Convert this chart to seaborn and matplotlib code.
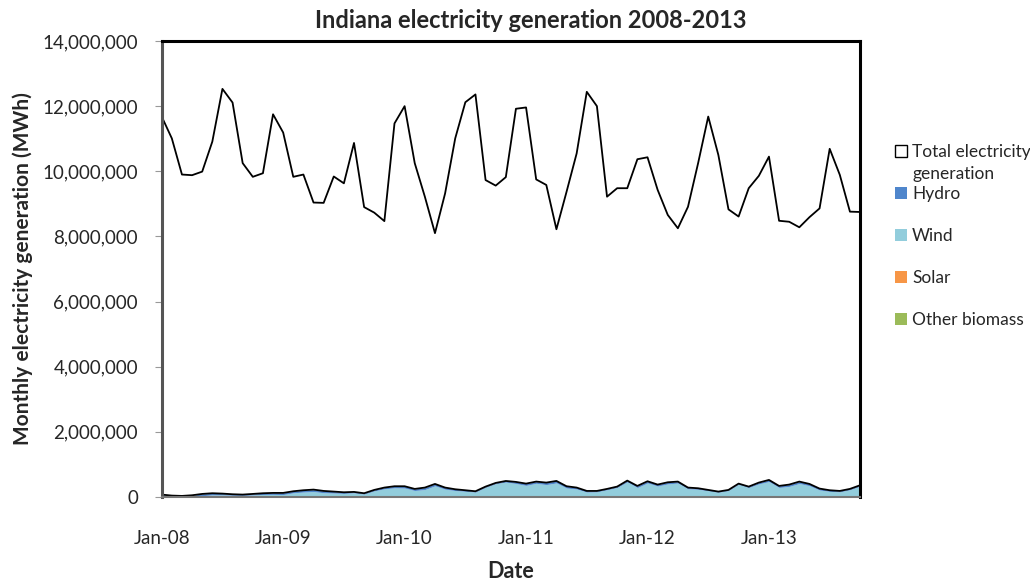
import pandas as pd
import matplotlib.pyplot as plt
import matplotlib.ticker as mticker
from matplotlib.patches import Patch
import seaborn as sns

# Monthly values, Jan-08 .. Oct-13 (MWh)
total = [11.68, 11.01, 9.90, 9.88, 9.99, 10.91, 12.53, 12.11, 10.25, 9.83, 9.94, 11.75,
         11.19, 9.83, 9.90, 9.04, 9.03, 9.84, 9.63, 10.87, 8.90, 8.73, 8.47, 11.47,
         12.00, 10.25, 9.22, 8.10, 9.32, 11.01, 12.12, 12.36, 9.73, 9.56, 9.82, 11.92,
         11.96, 9.75, 9.58, 8.22, 9.37, 10.55, 12.44, 12.00, 9.22, 9.48, 9.48, 10.37,
         10.43, 9.43, 8.66, 8.25, 8.91, 10.25, 11.68, 10.50, 8.83, 8.61, 9.48, 9.86,
         10.45, 8.48, 8.45, 8.28, 8.59, 8.86, 10.69, 9.89, 8.76, 8.75]
hydro = [62, 38, 30, 48, 55, 50, 38, 30, 25, 30, 38, 45,
         50, 48, 55, 60, 55, 45, 35, 28, 25, 30, 40, 48,
         55, 50, 60, 58, 50, 40, 32, 25, 22, 25, 35, 50,
         55, 52, 62, 60, 55, 45, 35, 28, 25, 28, 40, 50,
         52, 45, 50, 45, 38, 30, 25, 20, 20, 22, 30, 40,
         50, 48, 55, 58, 55, 45, 35, 28, 25, 30]
wind = [10, 3, 1, 3, 37, 63, 64, 52, 47, 62, 75, 78,
        73, 126, 150, 165, 129, 119, 108, 126, 88, 185, 247, 280,
        273, 196, 227, 341, 237, 195, 173, 149, 295, 405, 455, 411,
        354, 419, 378, 431, 273, 242, 149, 156, 221, 289, 461, 288,
        429, 334, 400, 426, 249, 236, 190, 144, 195, 387, 287, 400,
        472, 290, 324, 413, 344, 211, 170, 156, 221, 328]
solar = [0] * 70
biomass = [0] * 70
tick_labels = ['Jan-08', 'Jan-09', 'Jan-10', 'Jan-11', 'Jan-12', 'Jan-13']

df = pd.DataFrame({
    'month': range(len(total)),
    'total': [v * 1e6 for v in total],
    'hydro': [v * 1e3 for v in hydro],
    'wind': [v * 1e3 for v in wind],
    'solar': solar,
    'biomass': biomass,
})
df['stack'] = df['wind'] + df['hydro'] + df['solar'] + df['biomass']

sns.set_style('white')
plt.rcParams['font.family'] = ['Lato', 'DejaVu Sans']

fig = plt.figure(figsize=(10.3, 5.86), dpi=100)
ax = fig.add_axes([0.157, 0.152, 0.678, 0.778])

c_hydro, c_wind, c_solar, c_bio = '#4F86CC', '#92CDDC', '#F79646', '#9BBB59'

# stacked areas: wind at bottom, hydro on top
ax.fill_between(df['month'], 0, df['wind'], color=c_wind, lw=0)
ax.fill_between(df['month'], df['wind'], df['wind'] + df['hydro'], color=c_hydro, lw=0)
sns.lineplot(x='month', y='stack', data=df, ax=ax, color='black', lw=1.3)
sns.lineplot(x='month', y='total', data=df, ax=ax, color='black', lw=1.3)

ax.set_xlim(0, len(total) - 1)
ax.set_ylim(0, 14e6)
ax.set_yticks(range(0, 14000001, 2000000))
ax.yaxis.set_major_formatter(mticker.FuncFormatter(lambda v, p: f'{int(v):,}'))
ax.set_xticks(range(0, 61, 12))
ax.set_xticklabels(tick_labels)
ax.tick_params(axis='y', labelsize=13.5, length=5, color='#999999', pad=12, left=True)
ax.tick_params(axis='x', labelsize=13.5, length=0, pad=24)

for side in ['top', 'right']:
    ax.spines[side].set_color('black')
    ax.spines[side].set_linewidth(2.2)
ax.spines['left'].set_color('#555555')
ax.spines['left'].set_linewidth(2.2)
ax.spines['bottom'].set_color('#777777')
ax.spines['bottom'].set_linewidth(1.5)

ax.set_xlabel('Date', fontsize=15.5, fontweight='bold', labelpad=10)
ax.set_ylabel('Monthly electricity generation (MWh)', fontsize=15, fontweight='bold', labelpad=7)
fig.text(0.515, 0.965, 'Indiana electricity generation 2008-2013', ha='center', va='center',
         fontsize=17, fontweight='bold')

lg_kw = dict(loc='upper left', frameon=False, fontsize=12.5, handlelength=0.7,
             handleheight=0.7, handletextpad=0.3, borderaxespad=0)
fig.legend([Patch(facecolor='white', edgecolor='black', lw=1)],
           ['Total electricity'], bbox_to_anchor=(0.862, 0.766), **lg_kw)
fig.text(0.8855, 0.703, 'generation', fontsize=12.5, ha='left', va='center')
fig.legend([Patch(facecolor=c, edgecolor='none') for c in [c_hydro, c_wind, c_solar, c_bio]],
           ['Hydro', 'Wind', 'Solar', 'Other biomass'], bbox_to_anchor=(0.862, 0.694),
           labelspacing=1.5, **lg_kw)

plt.savefig('out.png', dpi=100)
